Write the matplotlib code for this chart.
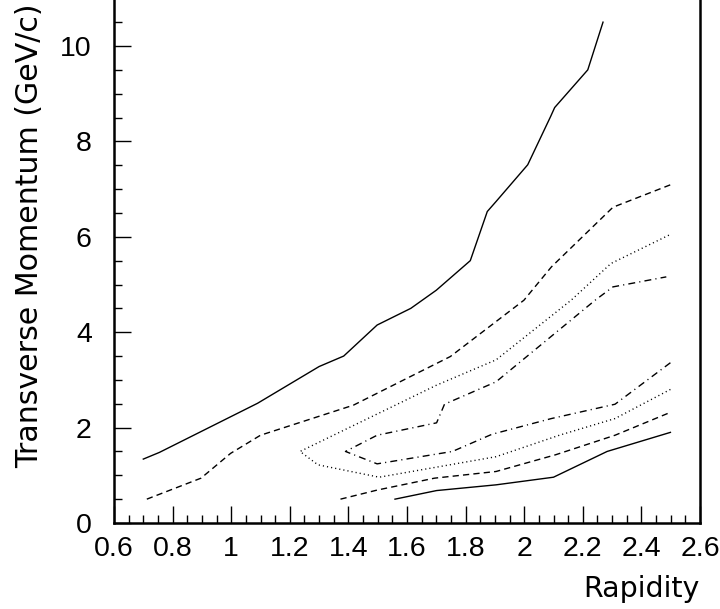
import numpy as np
import matplotlib
matplotlib.use('Agg')
import matplotlib.pyplot as plt
from matplotlib.ticker import MultipleLocator, FuncFormatter

plt.rcParams['font.family'] = ['Liberation Sans', 'DejaVu Sans']

# contour pieces (rapidity, pt)
solid_hi_x = [0.70, 0.755, 1.09, 1.30, 1.384, 1.498, 1.613, 1.70, 1.816, 1.874, 1.904, 2.012, 2.09, 2.104, 2.217, 2.269]
solid_hi_y = [1.34, 1.48, 2.51, 3.28, 3.50, 4.15, 4.50, 4.88, 5.50, 6.53, 6.74, 7.51, 8.52, 8.71, 9.50, 10.50]

dash_hi_x = [0.712, 0.897, 0.998, 1.10, 1.417, 1.748, 1.999, 2.093, 2.303, 2.499]
dash_hi_y = [0.50, 0.94, 1.46, 1.84, 2.47, 3.49, 4.67, 5.37, 6.62, 7.09]

dot_x = [2.499, 2.31, 2.12, 1.904, 1.505, 1.296, 1.235, 1.701, 1.904, 2.16, 2.296, 2.499]
dot_y = [2.80, 2.19, 1.84, 1.39, 0.96, 1.22, 1.50, 2.89, 3.42, 4.67, 5.44, 6.05]

dashdot_x = [2.499, 2.31, 2.093, 1.89, 1.755, 1.498, 1.39, 1.498, 1.701, 1.728, 1.904, 2.242, 2.303, 2.485]
dashdot_y = [3.36, 2.49, 2.19, 1.86, 1.50, 1.24, 1.50, 1.84, 2.10, 2.49, 2.96, 4.67, 4.95, 5.16]

dash_lo_x = [1.373, 1.498, 1.694, 1.904, 2.107, 2.31, 2.499]
dash_lo_y = [0.50, 0.69, 0.94, 1.08, 1.43, 1.84, 2.32]

solid_lo_x = [1.559, 1.701, 1.904, 2.10, 2.283, 2.499]
solid_lo_y = [0.50, 0.68, 0.80, 0.96, 1.50, 1.90]

fig = plt.figure(figsize=(7.2, 6.09), dpi=100)
ax = fig.add_axes([114 / 720, 86 / 609, 586 / 720, 524.7 / 609])

lw = 1.0
ax.plot(solid_hi_x, solid_hi_y, color='black', lw=lw, linestyle='-')
ax.plot(solid_lo_x, solid_lo_y, color='black', lw=lw, linestyle='-')
ax.plot(dash_hi_x, dash_hi_y, color='black', lw=lw, linestyle=(0, (4.5, 3)))
ax.plot(dash_lo_x, dash_lo_y, color='black', lw=lw, linestyle=(0, (4.5, 3)))
ax.plot(dot_x, dot_y, color='black', lw=lw, linestyle=(0, (0.8, 2.2)))
ax.plot(dashdot_x, dashdot_y, color='black', lw=lw, linestyle=(0, (5, 3, 0.8, 3)))

ax.set_xlim(0.6, 2.6)
ax.set_ylim(0, 11)

ax.xaxis.set_major_locator(MultipleLocator(0.2))
ax.xaxis.set_minor_locator(MultipleLocator(0.05))
ax.yaxis.set_major_locator(MultipleLocator(2))
ax.yaxis.set_minor_locator(MultipleLocator(0.5))
fmt = FuncFormatter(lambda v, p: '%g' % round(v, 3))
ax.xaxis.set_major_formatter(fmt)
ax.yaxis.set_major_formatter(fmt)

ax.tick_params(which='both', direction='in', top=False, right=False, width=1.0, labelsize=20.5)
ax.tick_params(which='major', length=12)
ax.tick_params(which='minor', length=6)
ax.tick_params(axis='x', pad=9)
ax.tick_params(axis='y', pad=16)

for side in ['left', 'bottom', 'right']:
    ax.spines[side].set_linewidth(1.8)
ax.spines['top'].set_visible(False)

ax.set_xlabel('Rapidity', fontsize=20.5, family='DejaVu Sans', loc='right', labelpad=10)
fig.text(30 / 720, 1 - 3 / 609, 'Transverse Momentum (GeV/c)', fontsize=21.6,
         family='DejaVu Sans', rotation=90, ha='center', va='top')

fig.savefig('out.png', dpi=100)
